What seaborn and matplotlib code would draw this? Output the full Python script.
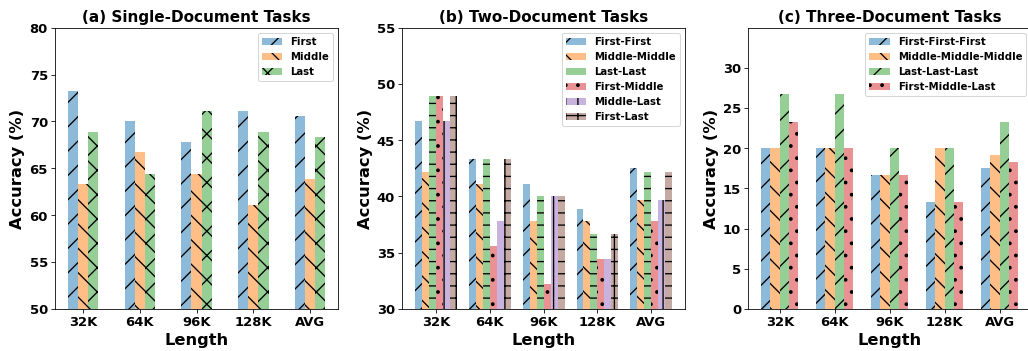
import seaborn as sns
from matplotlib import pyplot as plt
from matplotlib.colors import to_rgba
import pandas as pd

lengths = ["32K", "64K", "96K", "128K", "AVG"]

# (a) одиночные документы
single_names = ["First", "Middle", "Last"]
single_first = [73.3, 70.0, 67.8, 71.1, 70.6]
single_middle = [63.3, 66.7, 64.4, 61.1, 63.9]
single_last = [68.9, 64.4, 71.1, 68.9, 68.3]

# (b) два документа
two_names = ["First-First", "Middle-Middle", "Last-Last",
             "First-Middle", "Middle-Last", "First-Last"]
two_ff = [46.7, 43.3, 41.1, 38.9, 42.5]
two_mm = [42.2, 41.1, 37.8, 37.8, 39.7]
two_ll = [48.9, 43.3, 40.0, 36.7, 42.2]
two_fm = [48.9, 35.6, 32.2, 34.4, 37.8]
two_ml = [46.7, 37.8, 40.0, 34.4, 39.7]
two_fl = [48.9, 43.3, 40.0, 36.7, 42.2]

# (c) три документа
three_names = ["First-First-First", "Middle-Middle-Middle",
               "Last-Last-Last", "First-Middle-Last"]
three_fff = [20.0, 20.0, 16.7, 13.3, 17.5]
three_mmm = [20.0, 20.0, 16.7, 20.0, 19.2]
three_lll = [26.7, 26.7, 20.0, 20.0, 23.3]
three_fml = [23.3, 20.0, 16.7, 13.3, 18.3]


def long_df(names, series):
    rows = []
    for name, vals in zip(names, series):
        for L, v in zip(lengths, vals):
            rows.append({"Length": L, "Setting": name, "Accuracy": v})
    return pd.DataFrame(rows)


panels = [
    ("(a) Single-Document Tasks", long_df(single_names, [single_first, single_middle, single_last]),
     single_names, ["/", "\\", "x"], 0.54, (50, 80), range(50, 81, 5)),
    ("(b) Two-Document Tasks", long_df(two_names, [two_ff, two_mm, two_ll, two_fm, two_ml, two_fl]),
     two_names, ["/", "\\", "-", ".", "|", "+"], 0.78, (30, 55), range(30, 56, 5)),
    ("(c) Three-Document Tasks", long_df(three_names, [three_fff, three_mmm, three_lll, three_fml]),
     three_names, ["/", "\\", "/", "."], 0.68, (0, 35), range(0, 31, 5)),
]

plt.rcParams['hatch.linewidth'] = 1.3
plt.rcParams['font.weight'] = 'bold'

dpi = 73
fig = plt.figure(figsize=(1028.3 / dpi, 351.3 / dpi), dpi=dpi)
lefts = [55, 402, 748]
palette = sns.color_palette("tab10")

for left, (title, df, names, hatches, W, ylim, yt) in zip(lefts, panels):
    ax = fig.add_axes([left / 1028, 1 - 309 / 351, 283 / 1028, 281 / 351])
    sns.barplot(df, x="Length", y="Accuracy", hue="Setting", hue_order=names,
                order=lengths, palette=palette[:len(names)], width=W, gap=0,
                saturation=1, legend=False, ax=ax)
    for i, cont in enumerate(ax.containers):
        for bar in cont.patches:
            bar.set_facecolor(to_rgba(palette[i], 0.5))
            bar.set_edgecolor("black")
            bar.set_linewidth(0)
            bar.set_hatch(hatches[i])
    pad = 0.05 * (4 + W)
    ax.set_xlim(-W / 2 - pad, 4 + W / 2 + pad)
    ax.set_ylim(*ylim)
    ax.set_yticks(list(yt))
    ax.set_title(title, fontsize=15, fontweight='bold')
    ax.set_xlabel("Length", fontsize=16, fontweight='bold')
    ax.set_ylabel("Accuracy (%)", fontsize=16, fontweight='bold')
    ax.tick_params(labelsize=13)
    for lab in ax.get_xticklabels() + ax.get_yticklabels():
        lab.set_fontweight('bold')
    handles = [c.patches[0] for c in ax.containers]
    ax.legend(handles, names, loc="upper right", prop={'size': 10, 'weight': 'bold'})

fig.savefig("out.png", dpi=dpi)
